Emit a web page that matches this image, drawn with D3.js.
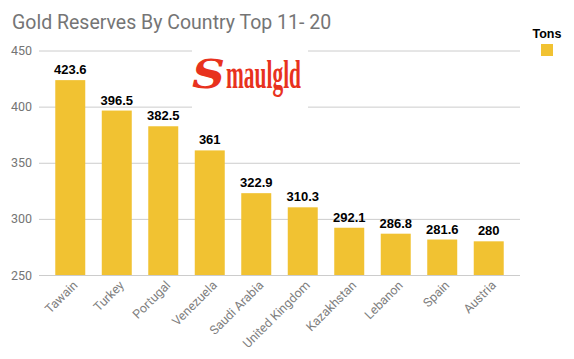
<!DOCTYPE html>
<html><head><meta charset="utf-8">
<script src="https://cdn.jsdelivr.net/npm/d3@7"></script>
<style>body{margin:0;background:#fff}svg{display:block}</style>
</head><body>
<svg id="chart" width="574" height="359"></svg>
<script>
const categories = ["Tawain","Turkey","Portugal","Venezuela","Saudi Arabia","United Kingdom","Kazakhstan","Lebanon","Spain","Austria"];
const tons = [423.6,396.5,382.5,361,322.9,310.3,292.1,286.8,281.6,280];
const labels = ["423.6","396.5","382.5","361","322.9","310.3","292.1","286.8","281.6","280"];
const yTicks = [250,300,350,400,450];
const title = "Gold Reserves By Country Top 11- 20";
const seriesName = "Tons";

const svg = d3.select("#chart");
const W = 574, H = 359;
svg.append("rect").attr("width",W).attr("height",H).attr("fill","#fff");

const x = d3.scaleBand().domain(categories).range([39,520]).paddingInner(0.355).paddingOuter(0.35);
const y = d3.scaleLinear().domain([250,450]).range([275,50.5]);
const gold = "#f1c232";

// gridlines + y labels
const yAxis = d3.axisLeft(y).tickValues(yTicks).tickSize(-(520-39)).tickFormat(d3.format("d"));
const ga = svg.append("g").attr("transform","translate(39,0)").call(yAxis);
ga.select(".domain").remove();
ga.selectAll(".tick line").attr("stroke","#cccccc").attr("stroke-width",1);
ga.selectAll(".tick text").attr("x",-7).attr("fill","#757575")
  .style("font-family","Roboto, Arial, sans-serif").style("font-size","12.5px");

// bars
svg.append("g").selectAll("rect").data(categories).join("rect")
  .attr("x",d=>x(d)).attr("width",x.bandwidth())
  .attr("y",(d,i)=>y(tons[i])).attr("height",(d,i)=>y(250)-y(tons[i]))
  .attr("fill",gold);

// value labels
svg.append("g").selectAll("text").data(categories).join("text")
  .attr("x",d=>x(d)+x.bandwidth()/2)
  .attr("y",(d,i)=>y(tons[i])-6)
  .attr("text-anchor","middle")
  .style("font-family","Arial, 'Liberation Sans', sans-serif")
  .style("font-weight","bold").style("font-size","13px").attr("fill","#000")
  .text((d,i)=>labels[i]);

// x labels
const gx = svg.append("g").attr("transform","translate(0,275)")
  .call(d3.axisBottom(x).tickSize(0));
gx.select(".domain").remove();
gx.selectAll(".tick text")
  .attr("text-anchor","end").attr("dy",0).attr("y",0)
  .attr("transform","translate(8,11) rotate(-45)")
  .attr("fill","#808080")
  .style("font-family","Roboto, Arial, sans-serif").style("font-size","12.5px");

// title
svg.append("text").attr("x",12).attr("y",29).text(title)
  .attr("fill","#757575").style("font-family","Roboto, Arial, sans-serif").style("font-size","19.5px");

// legend
svg.append("text").attr("x",547).attr("y",38).attr("text-anchor","middle").text(seriesName)
  .style("font-family","Arial, 'Liberation Sans', sans-serif").style("font-weight","bold").style("font-size","12.5px").attr("fill","#000");
svg.append("rect").attr("x",541).attr("y",44).attr("width",12).attr("height",12).attr("fill",gold);

// logo
const lg = svg.append("g");
lg.append("rect").attr("x",192).attr("y",46).attr("width",116).attr("height",66).attr("fill","#fff");
lg.append("text").attr("x",0).attr("y",0).text("S")
  .style("font-family","'DejaVu Serif', serif").style("font-weight","bold").style("font-style","italic")
  .style("font-size","40px").attr("fill","#e8321e")
  .attr("textLength",33).attr("lengthAdjust","spacingAndGlyphs")
  .attr("transform","translate(192,88) scale(1,1.0)");
lg.append("text").attr("x",226).attr("y",88).text("maulgld")
  .style("font-family","'Liberation Serif', serif").style("font-weight","bold")
  .style("font-size","40px").attr("fill","#e8321e")
  .attr("textLength",75).attr("lengthAdjust","spacingAndGlyphs");
</script>
</body></html>
